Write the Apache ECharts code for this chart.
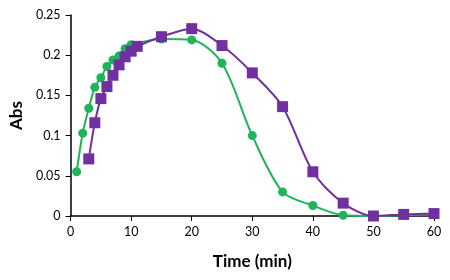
<!DOCTYPE html>
<html><head><meta charset="utf-8">
<script src="https://cdn.jsdelivr.net/npm/echarts@6/dist/echarts.min.js"></script>
<style>html,body{margin:0;padding:0;background:#fff}#c{width:450px;height:280px}</style>
</head><body><div id="c"></div>
<script>
var greenTime = [1,2,3,4,5,6,7,8,9,10,15,20,25,30,35,40,45,50,55,60];
var greenAbs  = [0.055,0.103,0.134,0.160,0.172,0.186,0.194,0.199,0.208,0.213,0.220,0.219,0.190,0.100,0.030,0.013,0.001,0.000,0.001,0.002];
var purpleTime = [3,4,5,6,7,8,9,10,11,15,20,25,30,35,40,45,50,55,60];
var purpleAbs  = [0.071,0.116,0.146,0.161,0.175,0.188,0.198,0.205,0.211,0.223,0.233,0.212,0.178,0.136,0.055,0.016,0.000,0.002,0.003];
var xTicks = [0,10,20,30,40,50,60];
var yTicks = [0,0.05,0.1,0.15,0.2,0.25];

function pairs(xs, ys){ return xs.map(function(x,i){ return [x, ys[i]]; }); }

var font = 'Lato, "Open Sans", sans-serif';
var chart = echarts.init(document.getElementById('c'));
chart.setOption({
  animation: false,
  grid: {left: 70, right: 16, top: 15, bottom: 64},
  xAxis: {
    type: 'value', min: 0, max: 60, interval: 10,
    name: 'Time (min)', nameLocation: 'middle', nameGap: 37,
    nameTextStyle: {fontFamily: font, fontWeight: 'bold', fontSize: 17, color: '#000'},
    axisLine: {lineStyle: {color: '#000', width: 1.5}},
    axisTick: {show: true, length: 5, lineStyle: {color: '#000'}},
    axisLabel: {fontFamily: font, fontSize: 12.5, color: '#000', margin: 9},
    splitLine: {show: false}
  },
  yAxis: {
    type: 'value', min: 0, max: 0.25, interval: 0.05,
    name: 'Abs', nameLocation: 'middle', nameGap: 40, nameRotate: 90,
    nameTextStyle: {fontFamily: font, fontWeight: 'bold', fontSize: 17, color: '#000'},
    axisLine: {show: true, lineStyle: {color: '#000', width: 1.5}},
    axisTick: {show: true, length: 5, lineStyle: {color: '#000'}},
    axisLabel: {fontFamily: font, fontSize: 12.5, color: '#000', margin: 10,
      formatter: function(v){ return String(+v.toFixed(2)); }},
    splitLine: {show: false}
  },
  series: [
    {type: 'line', data: pairs(greenTime, greenAbs), smooth: 0.3,
     symbol: 'circle', symbolSize: 9,
     lineStyle: {color: '#1db45a', width: 2}, itemStyle: {color: '#1db45a'}, z: 2},
    {type: 'line', data: pairs(purpleTime, purpleAbs), smooth: 0.3,
     symbol: 'rect', symbolSize: 11,
     lineStyle: {color: '#7030a0', width: 2}, itemStyle: {color: '#7030a0'}, z: 3}
  ]
});
</script></body></html>
